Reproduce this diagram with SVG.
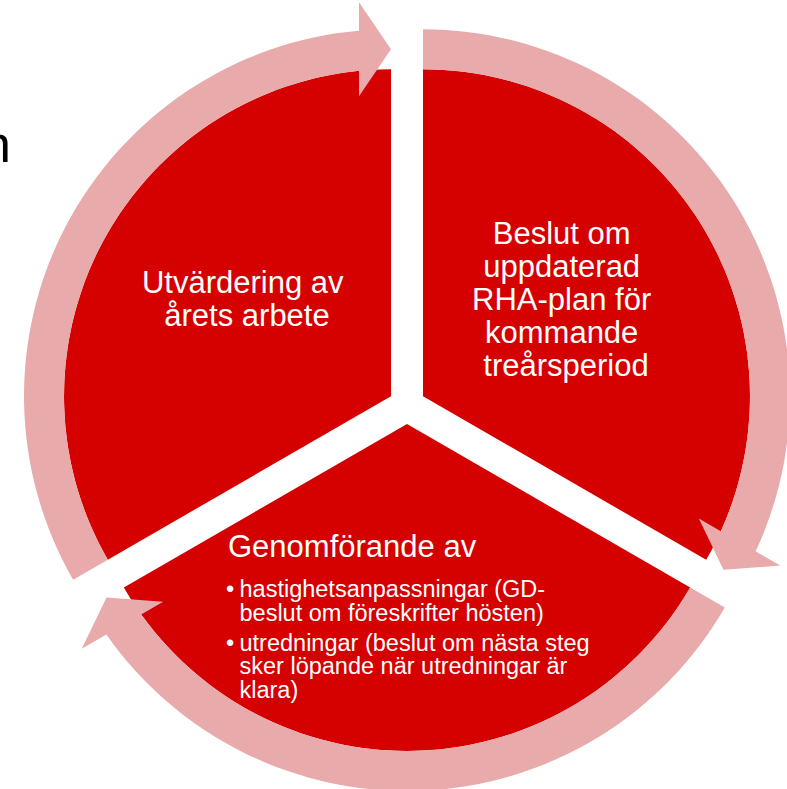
<svg xmlns="http://www.w3.org/2000/svg" width="787" height="789" viewBox="0 0 787 789">
  <style>
    .seg { fill: #D50000; }
    .ring { fill: #E8AAAA; }
    .lbl { font-family: "Liberation Sans", Arial, sans-serif; fill: #FFFFFF; }
    .big { font-size: 31px; }
    .small { font-size: 23.5px; }
  </style>
  <rect width="787" height="789" fill="#FFFFFF"/>
  <text x="-18" y="162" font-family="Liberation Sans, Arial, sans-serif" font-size="52" fill="#000000">n</text>

  <g id="node-utvardering">
    <path class="seg" d="M 391 396.25 L 107.81 559.75 A 327 327 0 0 1 391 69.25 Z"/>
    <text class="lbl big" text-anchor="middle">
      <tspan x="247" y="293">Utvärdering av</tspan>
      <tspan x="247" y="326">årets arbete</tspan>
    </text>
  </g>

  <g id="node-beslut">
    <path class="seg" d="M 423 396.25 L 423 69.25 A 327 327 0 0 1 706.19 559.75 Z"/>
    <text class="lbl big" text-anchor="middle">
      <tspan x="566" y="244">Beslut om</tspan>
      <tspan x="566" y="277">uppdaterad</tspan>
      <tspan x="566" y="310">RHA-plan för</tspan>
      <tspan x="566" y="343">kommande</tspan>
      <tspan x="566" y="376">treårsperiod</tspan>
    </text>
  </g>

  <g id="node-genomforande">
    <path class="seg" d="M 407 424 L 690.19 587.5 A 327 327 0 0 1 123.81 587.5 Z"/>
    <text class="lbl big" x="228" y="557">Genomförande av</text>
    <text class="lbl small">
      <tspan x="226" y="597">•</tspan>
      <tspan x="239.5" y="597">hastighetsanpassningar (GD-</tspan>
      <tspan x="239.5" y="620.5">beslut om föreskrifter hösten)</tspan>
      <tspan x="226" y="650.5">•</tspan>
      <tspan x="239.5" y="650.5">utredningar (beslut om nästa steg</tspan>
      <tspan x="239.5" y="674">sker löpande när utredningar är</tspan>
      <tspan x="239.5" y="697.5">klara)</tspan>
    </text>
  </g>

  <g id="connectors">
    <path id="arrow-left" class="ring" d="M 73.17 579.75 A 367 367 0 0 1 359 30.65 L 359 2.25 L 391 49.25 L 359 96.25 L 359 70.82 A 327 327 0 0 0 107.81 559.75 Z"/>
    <path id="arrow-right" class="ring" d="M 423 29.25 A 367 367 0 0 1 755.62 551.34 L 780.22 565.54 L 723.51 569.75 L 698.81 518.54 L 720.83 531.26 A 327 327 0 0 0 423 69.25 Z"/>
    <path id="arrow-bottom" class="ring" d="M 724.83 607.5 A 367 367 0 0 1 106.38 634.51 L 81.78 648.71 L 106.49 597.5 L 163.19 601.71 L 141.17 614.43 A 327 327 0 0 0 690.19 587.5 Z"/>
  </g>
</svg>
